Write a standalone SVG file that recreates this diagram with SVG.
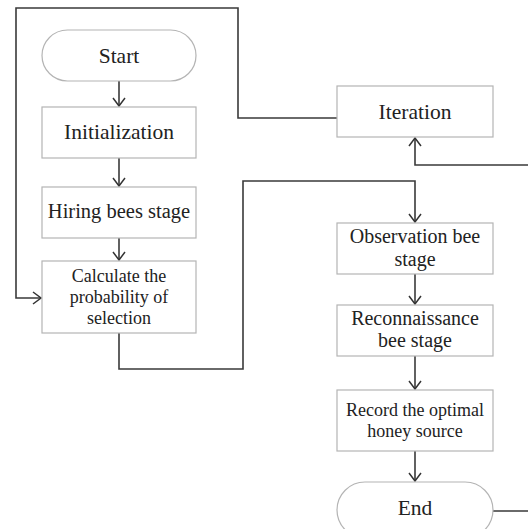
<svg xmlns="http://www.w3.org/2000/svg" width="528" height="529" viewBox="0 0 528 529">
<defs>
<marker id="arr" markerUnits="userSpaceOnUse" markerWidth="20" markerHeight="20" refX="0" refY="0" viewBox="-10 -10 20 20" orient="auto" overflow="visible">
<path d="M-8,-6 L0,0 L-8,6" fill="none" stroke="#333" stroke-width="1.5"/>
</marker>
<style>
.box{fill:#fff;stroke:#b4b4b4;stroke-width:1.2}
.t{font-family:"Liberation Serif","Times New Roman",serif;fill:#222;text-anchor:middle}
.c{fill:none;stroke:#3a3a3a;stroke-width:1.6}
</style>
</defs>
<rect width="528" height="529" fill="#fff"/>
<g id="connectors">
<path class="c" d="M119,81 V106" marker-end="url(#arr)"/>
<path class="c" d="M119,158 V186" marker-end="url(#arr)"/>
<path class="c" d="M119,238 V260" marker-end="url(#arr)"/>
<path class="c" d="M337,118 H238 V8 H16 V298 H41" marker-end="url(#arr)"/>
<path class="c" d="M119,333 V369 H243 V181 H415 V222" marker-end="url(#arr)"/>
<path class="c" d="M415,274 V304" marker-end="url(#arr)"/>
<path class="c" d="M415,356 V389" marker-end="url(#arr)"/>
<path class="c" d="M415,451 V481" marker-end="url(#arr)"/>
<path class="c" d="M493,511 H545 V165 H415 V138" marker-end="url(#arr)"/>
</g>
<g id="start">
<rect class="box" x="42" y="30" width="154" height="51" rx="25.5"/>
<text class="t" x="119" y="63" font-size="21.5">Start</text>
</g>
<g id="init">
<rect class="box" x="42" y="107" width="154" height="51"/>
<text class="t" x="119" y="139" font-size="21.5">Initialization</text>
</g>
<g id="hiring">
<rect class="box" x="42" y="187" width="154" height="51"/>
<text class="t" x="119" y="218" font-size="20.5">Hiring bees stage</text>
</g>
<g id="calc">
<rect class="box" x="42" y="261" width="154" height="72"/>
<text class="t" x="119" y="282" font-size="18">Calculate the</text>
<text class="t" x="119" y="303" font-size="18">probability of</text>
<text class="t" x="119" y="324" font-size="18">selection</text>
</g>
<g id="iteration">
<rect class="box" x="337" y="86" width="156" height="51"/>
<text class="t" x="415" y="119" font-size="21.5">Iteration</text>
</g>
<g id="observation">
<rect class="box" x="337" y="223" width="156" height="51"/>
<text class="t" x="415" y="243" font-size="20">Observation bee</text>
<text class="t" x="415" y="266" font-size="20">stage</text>
</g>
<g id="recon">
<rect class="box" x="337" y="305" width="156" height="51"/>
<text class="t" x="415" y="325" font-size="20">Reconnaissance</text>
<text class="t" x="415" y="347" font-size="20">bee stage</text>
</g>
<g id="record">
<rect class="box" x="337" y="390" width="156" height="61"/>
<text class="t" x="415" y="416" font-size="18">Record the optimal</text>
<text class="t" x="415" y="437" font-size="18">honey source</text>
</g>
<g id="end">
<rect class="box" x="337" y="482" width="156" height="56" rx="28"/>
<text class="t" x="415" y="515" font-size="21.5">End</text>
</g>
</svg>
